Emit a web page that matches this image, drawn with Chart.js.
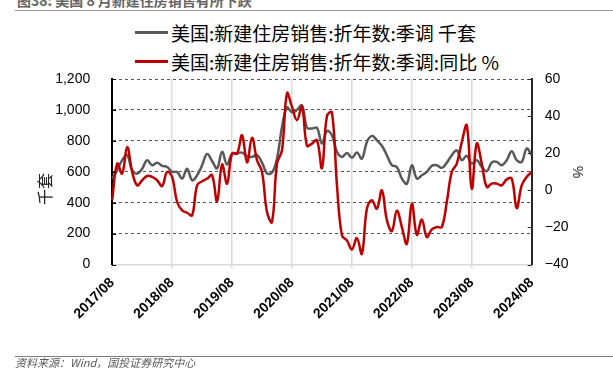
<!DOCTYPE html>
<html>
<head>
<meta charset="utf-8">
<script src="https://cdn.jsdelivr.net/npm/chart.js@4/dist/chart.umd.min.js"></script>
<style>
body{margin:0;width:613px;height:383px;overflow:hidden;background:#fff;font-family:"Noto Sans CJK SC","Liberation Sans",sans-serif;position:relative}
canvas{position:absolute;left:0;top:0}
.rule{position:absolute;left:15px;right:0;height:0;border-top:1.5px solid #9a9a9a}
#title{position:absolute;left:17px;top:-7.5px;font-size:14px;line-height:14px;font-weight:bold;color:#666;white-space:nowrap}
.lg{position:absolute;left:135px;height:22px;display:flex;align-items:center;font-size:19px;color:#000;white-space:nowrap}
.lg span{display:inline-block;width:33px;height:3px;margin-right:3px}
.rot{position:absolute;white-space:nowrap;color:#222}
#foot{position:absolute;left:15px;top:354px;font-size:11px;line-height:16px;font-style:italic;color:#595959;white-space:nowrap}
</style>
</head>
<body>
<div id="title">图38: 美国 8 月新建住房销售有所下跌</div>
<div class="rule" style="top:10px"></div>
<div class="lg" style="top:21px"><span style="background:#595959"></span>美国:新建住房销售:折年数:季调 千套</div>
<div class="lg" style="top:50px"><span style="background:#c00000"></span>美国:新建住房销售:折年数:季调:同比 %</div>
<canvas id="chart" width="613" height="383"></canvas>
<div class="rot" style="left:44px;top:189px;font-size:16px;transform:translate(-50%,-50%) rotate(-90deg)">千套</div>
<div class="rot" style="left:578px;top:172px;font-size:14px;font-family:'Liberation Sans';transform:translate(-50%,-50%) rotate(90deg)">%</div>
<div class="rule" style="top:356px;border-top:1px solid #808080"></div>
<div id="foot">资料来源：Wind，国投证券研究中心</div>
<script>
// 2017/08 .. 2024/08, monthly
const startYear = 2017, startMonth = 8, nMonths = 85;
const yearTicks = ["2017/08","2018/08","2019/08","2020/08","2021/08","2022/08","2023/08","2024/08"];

// 新建住房销售:折年数:季调 (千套)
const salesK = [
  556,610,675,707,610,588,620,675,642,659,638,631,
  599,599,556,620,545,577,642,715,670,622,729,646,
  718,718,724,700,696,707,659,590,595,685,890,1015,
  985,1000,1030,885,880,884,783,863,837,729,696,722,
  690,724,685,793,832,804,768,707,642,631,556,523,
  642,556,577,599,638,642,625,659,707,739,675,703,
  653,675,631,603,659,664,642,675,733,675,664,750,
  707
];
// 同比 (%)
const salesYoY = [
  -5,14.4,9.0,23.4,9.9,2.7,5.4,7.7,7.2,5.4,2.3,9.9,
  7.2,-6.3,-10.8,-12.1,-13.5,2.7,4.9,6.3,8.1,-5.9,13.9,3.6,
  19.8,19.8,29.7,15.0,28.3,16.2,9.9,-11.7,-17.1,14.4,21.6,52.3,
  45,37.8,45,24,25.2,27,12,40,42,3,-24.3,-27,
  -31.9,-25.8,-34.2,-9.9,-5.4,-9.9,0,-16,-22,-11,-19.8,-28.8,
  -7.2,-24,-15.7,-25.2,-21.1,-19.8,-19.8,-6.3,9.9,14.4,26,35,
  0.9,25.2,14.4,1.8,3.6,3.6,2.7,5.9,6.3,-9.6,2.7,7.2,
  9.9
];

const months = [];
for (let i = 0; i < nMonths; i++) {
  const m = (startMonth - 1 + i) % 12 + 1;
  const y = startYear + Math.floor((startMonth - 1 + i) / 12);
  months.push(y + "/" + String(m).padStart(2, "0"));
}

const yearGrid = ctx => yearTicks.includes(months[ctx.index]) ? "#dcdcdc" : "rgba(0,0,0,0)";

// little inward tick marks on both value axes
const innerTicks = {
  id: "innerTicks",
  afterDraw(chart) {
    const c = chart.ctx, y = chart.scales.y, y1 = chart.scales.y1;
    c.save();
    c.lineWidth = 1;
    c.strokeStyle = "#000";
    y.ticks.forEach(t => {
      const p = Math.round(y.getPixelForValue(t.value)) + 0.5;
      c.beginPath(); c.moveTo(y.right, p); c.lineTo(y.right + 4, p); c.stroke();
    });
    c.strokeStyle = "#262626";
    y1.ticks.forEach(t => {
      const p = Math.round(y1.getPixelForValue(t.value)) + 0.5;
      c.beginPath(); c.moveTo(y1.left - 4, p); c.lineTo(y1.left, p); c.stroke();
    });
    c.restore();
  }
};

new Chart("chart", {
  type: "line",
  data: {
    labels: months,
    datasets: [{
      label: "美国:新建住房销售:折年数:季调 千套",
      data: salesK,
      borderColor: "#595959",
      borderWidth: 2.5,
      yAxisID: "y",
      order: 1
    }, {
      label: "美国:新建住房销售:折年数:季调:同比 %",
      data: salesYoY,
      borderColor: "#c00000",
      borderWidth: 2.5,
      yAxisID: "y1",
      order: 0
    }]
  },
  options: {
    responsive: false,
    animation: false,
    layout: {padding: {top: 79, left: 0, right: 0, bottom: 0}},
    elements: {point: {radius: 0}, line: {tension: 0.4}},
    plugins: {legend: {display: false}, tooltip: {enabled: false}},
    scales: {
      x: {
        afterFit: s => { s.height = 383 - 264.5; },
        grid: {color: yearGrid, tickColor: yearGrid, lineWidth: 1.5, tickLength: 4},
        border: {color: "#d9d9d9", width: 1.5},
        ticks: {
          autoSkip: false, minRotation: 45, maxRotation: 45, padding: 6,
          color: "#000", font: {family: "Liberation Sans", size: 14, weight: "bold"},
          callback: function (v, i) { const l = months[i]; return yearTicks.includes(l) ? l : ""; }
        }
      },
      y: {
        position: "left", min: 0, max: 1200,
        afterFit: s => { s.width = 112.2; },
        grid: {color: ctx => ctx.tick.value === 0 ? "rgba(0,0,0,0)" : "#555", lineWidth: 1, drawTicks: false},
        border: {color: "#000", width: 2, dash: [3, 3]},
        ticks: {stepSize: 200, padding: 22, color: "#000", font: {family: "Liberation Sans", size: 14},
          callback: v => v.toLocaleString("en-US")}
      },
      y1: {
        position: "right", min: -40, max: 60,
        afterFit: s => { s.width = 613 - 531.7; },
        grid: {drawOnChartArea: false, drawTicks: false},
        border: {color: "#262626", width: 2},
        ticks: {stepSize: 20, padding: 13, color: "#000", font: {family: "Liberation Sans", size: 14},
          callback: v => v < 0 ? "\u2212" + Math.abs(v) : String(v)}
      }
    }
  },
  plugins: [innerTicks]
});
</script>
</body>
</html>
